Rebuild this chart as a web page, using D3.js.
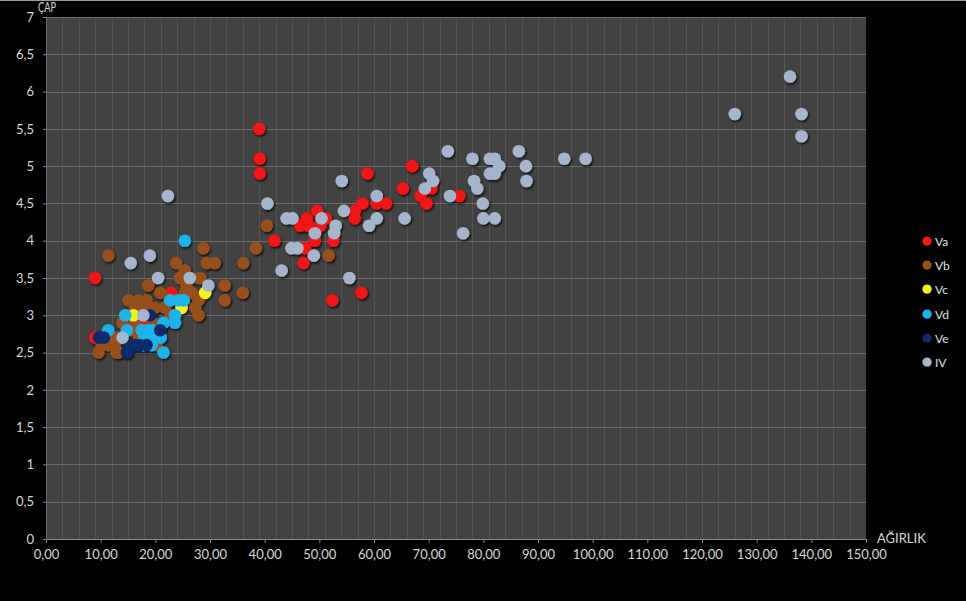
<!DOCTYPE html>
<html>
<head>
<meta charset="utf-8">
<script src="https://cdn.jsdelivr.net/npm/d3@7/dist/d3.min.js"></script>
<style>
  html, body { margin: 0; padding: 0; background: #000; }
  svg { display: block; }
  text { font-family: Lato, "Open Sans", sans-serif; }
</style>
</head>
<body>
<svg id="chart" width="966" height="601"></svg>
<script>
// Series names and colours, in drawing / legend order
const seriesNames = ["Va", "Vb", "Vc", "Vd", "Ve", "IV"];
const seriesColors = ["#f21212", "#97501f", "#f4f21a", "#1fb2ea", "#0d2c6c", "#a4b5cd"];

// [AĞIRLIK, ÇAP] pairs for each series
const va = [
  [9.0,3.5],[9.0,2.7],[18.1,2.9],[22.9,3.3],[39.0,5.5],[39.1,5.1],[39.1,4.9],[41.8,4.0],
  [47.1,3.7],[47.4,3.9],[46.5,4.2],[48.0,4.2],[47.7,4.3],[49.6,4.4],[49.2,4.0],[50.2,4.2],
  [51.2,4.3],[52.6,4.0],[52.4,3.2],[57.7,3.3],[56.5,4.4],[56.5,4.3],[57.9,4.5],[58.8,4.9],
  [60.5,4.5],[62.2,4.5],[65.3,4.7],[67.0,5.0],[68.5,4.6],[69.6,4.5],[70.5,4.7],[75.6,4.6]
];
const vb = [
  [9.6,2.5],[10.2,2.6],[11.4,2.6],[12.6,2.6],[12.0,2.7],[12.9,2.7],[12.9,2.5],[13.2,2.5],
  [11.4,3.8],[15.4,2.8],[16.3,2.9],[15.1,3.2],[16.9,3.2],[18.4,3.2],[18.7,3.4],[16.3,3.1],
  [18.1,3.1],[19.9,3.1],[21.8,3.1],[20.9,3.3],[25.4,3.3],[26.7,3.3],[27.9,3.2],[27.3,3.1],
  [27.9,3.0],[25.4,3.6],[27.9,3.5],[24.5,3.5],[28.2,3.5],[23.8,3.7],[29.4,3.7],[30.9,3.7],
  [28.8,3.9],[32.7,3.4],[32.7,3.2],[36.0,3.3],[36.1,3.7],[38.4,3.9],[40.4,4.2],[51.7,3.8],
  [25.7,3.4],[19.5,2.9],[22.8,3.0],[14.0,2.9],[20.2,2.6],[17.0,2.7]
];
const vc = [[16.0,3.0],[24.8,3.1],[29.1,3.3]];
const vd = [
  [25.4,4.0],[22.7,3.2],[24.2,3.2],[25.2,3.2],[14.5,3.0],[23.6,3.0],[21.5,2.9],[23.6,2.9],
  [11.4,2.8],[14.8,2.8],[17.5,2.8],[18.5,2.8],[19.5,2.8],[18.0,2.7],[19.0,2.7],[20.0,2.7],
  [21.0,2.7],[17.8,2.6],[19.3,2.6],[21.5,2.5]
];
const ve = [
  [9.7,2.7],[10.6,2.7],[14.8,2.5],[15.1,2.6],[16.3,2.6],[17.2,2.6],[19.0,3.0],[20.9,2.8],[18.4,2.6]
];
const iv = [
  [14.0,2.7],[17.8,3.0],[15.5,3.7],[19.0,3.8],[20.5,3.5],[26.3,3.5],[29.7,3.4],[22.3,4.6],
  [40.5,4.5],[43.1,3.6],[44.0,4.3],[45.1,4.3],[44.9,3.9],[46.0,3.9],[49.0,3.8],[49.2,4.1],
  [50.4,4.3],[52.7,4.1],[53.0,4.2],[54.1,4.8],[54.5,4.4],[55.5,3.5],[59.1,4.2],[60.5,4.3],
  [60.5,4.6],[65.6,4.3],[69.3,4.7],[70.1,4.9],[70.8,4.8],[73.5,5.2],[73.9,4.6],[76.3,4.1],
  [78.0,5.1],[78.3,4.8],[78.9,4.7],[79.9,4.5],[80.0,4.3],[81.2,5.1],[82.1,5.1],[81.2,4.9],
  [82.1,4.9],[82.1,4.3],[82.9,5.0],[86.5,5.2],[87.8,5.0],[87.9,4.8],[94.8,5.1],[98.7,5.1],
  [126.0,5.7],[136.1,6.2],[138.2,5.7],[138.2,5.4]
];
const seriesData = [va, vb, vc, vd, ve, iv];

// Axis ticks
const xTicks = d3.range(0, 151, 10);
const yTicks = d3.range(0, 7.01, 0.5);
const xGrid = d3.range(3, 150, 3);

const svg = d3.select("#chart");
const W = 966, H = 601;
const plot = { left: 46, right: 866, top: 17, bottom: 539 };

const x = d3.scaleLinear().domain([0, 150]).range([plot.left, plot.right]);
const y = d3.scaleLinear().domain([0, 7]).range([plot.bottom, plot.top]);

const comma = s => s.replace(".", ",");

// Page background with a thin light edge along the top
svg.append("rect").attr("width", W).attr("height", H).attr("fill", "#000");
svg.append("rect").attr("width", W).attr("height", 1).attr("fill", "#9a9a9a");

// Marker shadow
const defs = svg.append("defs");
const f = defs.append("filter").attr("id", "shadow")
  .attr("x", "-50%").attr("y", "-50%").attr("width", "200%").attr("height", "200%");
f.append("feDropShadow").attr("dx", 1.2).attr("dy", 1.6)
  .attr("stdDeviation", 1.1).attr("flood-color", "#000").attr("flood-opacity", 0.85);

// Plot area
svg.append("rect")
  .attr("x", plot.left).attr("y", plot.top)
  .attr("width", plot.right - plot.left).attr("height", plot.bottom - plot.top)
  .attr("fill", "#424242");

// Vertical gridlines
svg.append("g").selectAll("line").data(xGrid).join("line")
  .attr("x1", d => Math.round(x(d)) + 0.5).attr("x2", d => Math.round(x(d)) + 0.5)
  .attr("y1", plot.top).attr("y2", plot.bottom)
  .attr("stroke", "#545454").attr("stroke-width", 1);

// Horizontal gridlines
svg.append("g").selectAll("line").data(yTicks.filter(d => d > 0)).join("line")
  .attr("x1", plot.left).attr("x2", plot.right)
  .attr("y1", d => Math.round(y(d)) + 0.5).attr("y2", d => Math.round(y(d)) + 0.5)
  .attr("stroke", "#6c6c6c").attr("stroke-width", 1);

// X axis
const xAxis = svg.append("g")
  .attr("transform", `translate(0,${plot.bottom})`)
  .call(d3.axisBottom(x).tickValues(xTicks).tickSize(4).tickPadding(7)
    .tickFormat(d => comma(d.toFixed(2))));
xAxis.select(".domain").attr("stroke", "#8a8a8a");
xAxis.selectAll(".tick line").attr("stroke", "#8a8a8a");
xAxis.selectAll("text").attr("fill", "#d8d8d8").attr("font-size", 13)
  .style("font-family", "Lato, sans-serif");

// Y axis
const yAxis = svg.append("g")
  .attr("transform", `translate(${plot.left},0)`)
  .call(d3.axisLeft(y).tickValues(yTicks).tickSize(3).tickPadding(9)
    .tickFormat(d => comma(String(d))));
yAxis.select(".domain").attr("stroke", "#6c6c6c");
yAxis.selectAll(".tick line").attr("stroke", "#8a8a8a");
yAxis.selectAll("text").attr("fill", "#d8d8d8").attr("font-size", 13)
  .style("font-family", "Lato, sans-serif");

// Axis titles
svg.append("text").text("ÇAP")
  .attr("x", 38).attr("y", 12)
  .attr("font-size", 12.5).attr("fill", "#d8d8d8")
  .attr("textLength", 18).attr("lengthAdjust", "spacingAndGlyphs");
svg.append("text").text("AĞIRLIK")
  .attr("x", 877).attr("y", 543)
  .attr("font-size", 13).attr("fill", "#d8d8d8");

// Points
const pts = svg.append("g").attr("filter", "url(#shadow)");
seriesData.forEach((data, i) => {
  pts.append("g").selectAll("circle").data(data).join("circle")
    .attr("cx", d => x(d[0]))
    .attr("cy", d => y(d[1]))
    .attr("r", 6.3)
    .attr("fill", seriesColors[i]);
});

// Legend
const legend = svg.append("g");
const legendY = d3.scaleOrdinal().domain(seriesNames).range([241, 265, 289, 314, 338, 362]);
seriesNames.forEach((name, i) => {
  legend.append("circle")
    .attr("cx", 927).attr("cy", legendY(name)).attr("r", 4.6)
    .attr("fill", seriesColors[i]).attr("filter", "url(#shadow)");
  legend.append("text").text(name)
    .attr("x", 935).attr("y", legendY(name) + 4.5)
    .attr("font-size", 12).attr("fill", "#e0e0e0");
});
</script>
</body>
</html>
